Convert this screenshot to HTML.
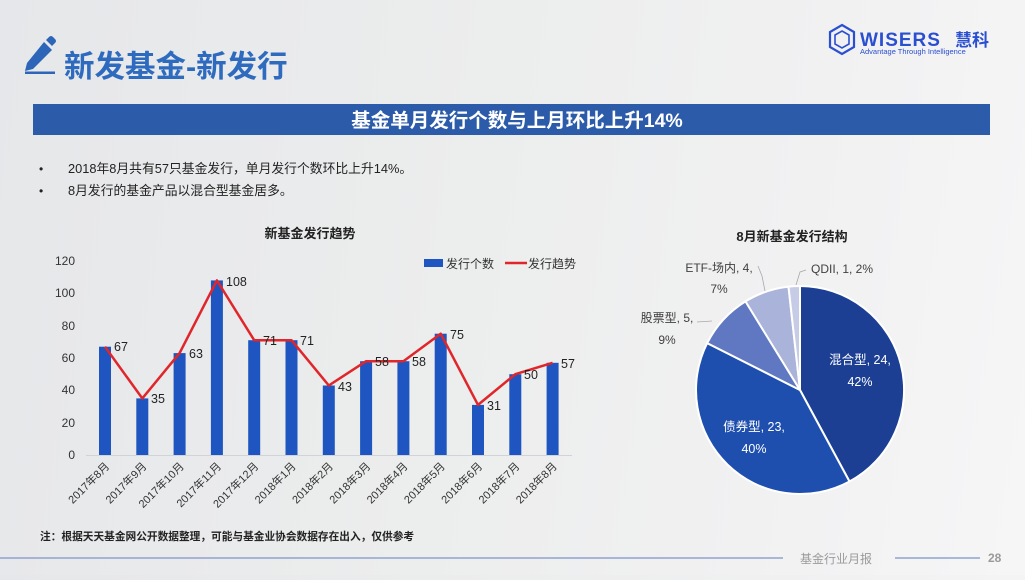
<!DOCTYPE html>
<html><head><meta charset="utf-8">
<style>
html,body{margin:0;padding:0;}
body{width:1025px;height:575px;overflow:hidden;background:linear-gradient(100deg,#e6e7ea 0%,#eceded 45%,#f1f1f2 75%,#f6f6f7 100%);font-family:"Liberation Sans","Noto Sans CJK SC",sans-serif;}
svg text{font-family:"Liberation Sans","Noto Sans CJK SC",sans-serif;}
</style></head>
<body>
<svg width="1025" height="575" viewBox="0 0 1025 575" xmlns="http://www.w3.org/2000/svg">
<!-- pencil icon -->
<g fill="#2d66b8">
<path d="M44,42 L52,50 L33,69 L25,71 L27,63 Z"/>
<path d="M46,40 L49,37 Q51,35 53,37 L55,39 Q57,41 55,43 L52,46 Z"/>
<rect x="25" y="71.5" width="30" height="2.5"/>
</g>
<text x="64" y="77" font-size="30.5" font-weight="bold" fill="#2e6bbf">新发基金-新发行</text>

<!-- logo -->
<g fill="none" stroke="#2a4fd0" stroke-width="2.2">
<path d="M842,25 L854,32 L854,47 L842,54 L830,47 L830,32 Z"/>
<path d="M842,31 L849,35 L849,44 L842,48 L835,44 L835,35 Z" stroke-width="1.6"/>
</g>
<text x="860" y="46" font-size="19" font-weight="bold" fill="#2a4fd0" letter-spacing="1">WISERS</text>
<text x="955" y="46" font-size="17" font-weight="bold" fill="#2a4fd0">慧科</text>
<text x="860" y="54" font-size="7.5" fill="#2a4fd0">Advantage Through Intelligence</text>

<!-- title bar -->
<rect x="33" y="104" width="957" height="31" fill="#2c5ba9"/>
<text x="517" y="127" font-size="19.5" font-weight="bold" fill="#ffffff" text-anchor="middle">基金单月发行个数与上月环比上升14%</text>

<!-- bullets -->
<text x="39" y="173" font-size="12" fill="#222">•</text>
<text x="68" y="173" font-size="12.8" fill="#222">2018年8月共有57只基金发行，单月发行个数环比上升14%。</text>
<text x="39" y="195" font-size="12" fill="#222">•</text>
<text x="68" y="195" font-size="12.8" fill="#222">8月发行的基金产品以混合型基金居多。</text>

<!-- bar chart title -->
<text x="310" y="238" font-size="13" font-weight="bold" fill="#222" text-anchor="middle">新基金发行趋势</text>

<!-- legend -->
<rect x="424" y="259" width="19" height="8" fill="#1f55c0"/>
<text x="446" y="268" font-size="12" fill="#333">发行个数</text>
<line x1="505" y1="263" x2="527" y2="263" stroke="#e0262a" stroke-width="2.5"/>
<text x="528" y="268" font-size="12" fill="#333">发行趋势</text>

<!-- y axis labels -->
<g font-size="12" fill="#333" text-anchor="end">
<text x="75" y="265">120</text>
<text x="75" y="297">100</text>
<text x="75" y="330">80</text>
<text x="75" y="362">60</text>
<text x="75" y="394">40</text>
<text x="75" y="427">20</text>
<text x="75" y="459">0</text>
</g>
<line x1="86" y1="455.5" x2="572" y2="455.5" stroke="#d0d3d8" stroke-width="1"/>

<!-- bars -->
<g fill="#1f55c0">
<rect x="99" y="346.7" width="12" height="108.3"/>
<rect x="136.3" y="398.4" width="12" height="56.6"/>
<rect x="173.6" y="353.1" width="12" height="101.9"/>
<rect x="210.9" y="280.4" width="12" height="174.6"/>
<rect x="248.2" y="340.2" width="12" height="114.8"/>
<rect x="285.5" y="340.2" width="12" height="114.8"/>
<rect x="322.8" y="385.5" width="12" height="69.5"/>
<rect x="360.1" y="361.2" width="12" height="93.8"/>
<rect x="397.4" y="361.2" width="12" height="93.8"/>
<rect x="434.7" y="333.7" width="12" height="121.3"/>
<rect x="472" y="404.9" width="12" height="50.1"/>
<rect x="509.3" y="374.2" width="12" height="80.8"/>
<rect x="546.6" y="362.8" width="12" height="92.2"/>
</g>
<polyline fill="none" stroke="#e0262a" stroke-width="2.5" stroke-linejoin="round"
points="105,346.7 142.3,398.4 179.6,353.1 216.9,280.4 254.2,340.2 291.5,340.2 328.8,385.5 366.1,361.2 403.4,361.2 440.7,333.7 478,404.9 515.3,374.2 552.6,362.8"/>

<!-- data labels -->
<g font-size="12.5" fill="#222">
<text x="114" y="351">67</text>
<text x="151" y="403">35</text>
<text x="189" y="358">63</text>
<text x="226" y="286">108</text>
<text x="263" y="345">71</text>
<text x="300" y="345">71</text>
<text x="338" y="391">43</text>
<text x="375" y="366">58</text>
<text x="412" y="366">58</text>
<text x="450" y="339">75</text>
<text x="487" y="410">31</text>
<text x="524" y="379">50</text>
<text x="561" y="368">57</text>
</g>

<!-- x labels -->
<g font-size="11" fill="#333" text-anchor="end">
<text transform="translate(110,467) rotate(-45)">2017年8月</text>
<text transform="translate(147.3,467) rotate(-45)">2017年9月</text>
<text transform="translate(184.6,467) rotate(-45)">2017年10月</text>
<text transform="translate(221.9,467) rotate(-45)">2017年11月</text>
<text transform="translate(259.2,467) rotate(-45)">2017年12月</text>
<text transform="translate(296.5,467) rotate(-45)">2018年1月</text>
<text transform="translate(333.8,467) rotate(-45)">2018年2月</text>
<text transform="translate(371.1,467) rotate(-45)">2018年3月</text>
<text transform="translate(408.4,467) rotate(-45)">2018年4月</text>
<text transform="translate(445.7,467) rotate(-45)">2018年5月</text>
<text transform="translate(483,467) rotate(-45)">2018年6月</text>
<text transform="translate(520.3,467) rotate(-45)">2018年7月</text>
<text transform="translate(557.6,467) rotate(-45)">2018年8月</text>
</g>

<!-- note -->
<text x="40" y="540" font-size="10.7" font-weight="bold" fill="#222">注：根据天天基金网公开数据整理，可能与基金业协会数据存在出入，仅供参考</text>

<!-- pie chart -->
<text x="792" y="241" font-size="13" font-weight="bold" fill="#222" text-anchor="middle">8月新基金发行结构</text>
<g stroke="#ffffff" stroke-width="2" stroke-linejoin="round">
<path d="M800,390 L800,286 A104,104 0 0 1 849.5,481.5 Z" fill="#1c3f94"/>
<path d="M800,390 L849.5,481.5 A104,104 0 0 1 707.2,343.1 Z" fill="#1f4fae"/>
<path d="M800,390 L707.2,343.1 A104,104 0 0 1 745.5,301.4 Z" fill="#6078c2"/>
<path d="M800,390 L745.5,301.4 A104,104 0 0 1 788.5,286.6 Z" fill="#aab3d9"/>
<path d="M800,390 L788.5,286.6 A104,104 0 0 1 800,286 Z" fill="#c7cce6"/>
</g>
<g font-size="12.5" fill="#ffffff" text-anchor="middle">
<text x="860" y="364">混合型, 24,</text>
<text x="860" y="386">42%</text>
<text x="754" y="431">债券型, 23,</text>
<text x="754" y="453">40%</text>
</g>
<g font-size="12" fill="#404040" text-anchor="middle">
<text x="719" y="272">ETF-场内, 4,</text>
<text x="719" y="293">7%</text>
<text x="842" y="273">QDII, 1, 2%</text>
<text x="667" y="322">股票型, 5,</text>
<text x="667" y="344">9%</text>
</g>
<g stroke="#a8a8a8" stroke-width="0.8" fill="none">
<path d="M758,266 L762,276 L765,291"/>
<path d="M806,270 L800,272 L796,285"/>
<path d="M697,322 L712,321"/>
</g>

<!-- footer -->
<line x1="0" y1="558" x2="783" y2="558" stroke="#8fa3cf" stroke-width="1.5"/>
<text x="800" y="563" font-size="12" fill="#9a9a9a">基金行业月报</text>
<line x1="895" y1="558" x2="980" y2="558" stroke="#8fa3cf" stroke-width="1.5"/>
<text x="988" y="562" font-size="12" font-weight="bold" fill="#9a9a9a">28</text>
</svg>
</body></html>
